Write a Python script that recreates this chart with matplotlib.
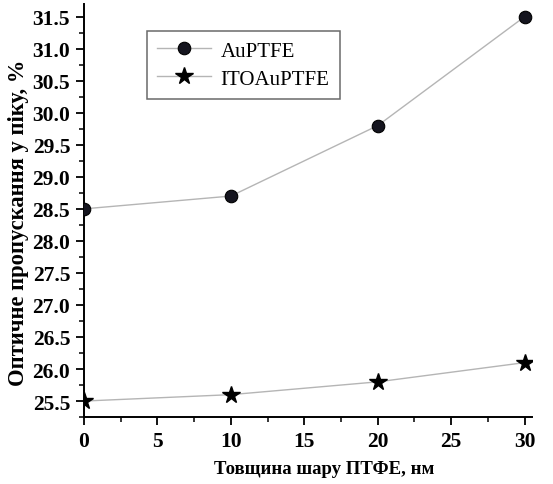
import matplotlib.pyplot as plt
from matplotlib.ticker import MultipleLocator

thickness = [0, 10, 20, 30]
au_ptfe = [28.5, 28.7, 29.8, 31.5]
ito_au_ptfe = [25.5, 25.6, 25.8, 26.1]

plt.rcParams['font.family'] = ['Liberation Serif', 'DejaVu Serif']

fig = plt.figure(figsize=(5.53, 4.85), dpi=100)
ax = fig.add_axes([0.152, 0.138, 0.81, 0.852])

ax.plot(thickness, au_ptfe, color='#b5b5b5', lw=1.0, marker='o', ms=9,
        mfc='#15151f', mec='#000000', mew=0.8, label='AuPTFE', zorder=3)
ax.plot(thickness, ito_au_ptfe, color='#b5b5b5', lw=1.0, marker='*', ms=13,
        mfc='black', mec='black', label='ITOAuPTFE', zorder=3)

ax.set_xlim(0, 30.5)
ax.set_ylim(25.25, 31.7)
ax.xaxis.set_major_locator(MultipleLocator(5))
ax.xaxis.set_minor_locator(MultipleLocator(2.5))
ax.yaxis.set_major_locator(MultipleLocator(0.5))
ax.yaxis.set_minor_locator(MultipleLocator(0.25))
ax.yaxis.set_major_formatter(plt.FormatStrFormatter('%.1f'))

for s in ['top', 'right']:
    ax.spines[s].set_visible(False)
for s in ['left', 'bottom']:
    ax.spines[s].set_linewidth(1.4)
ax.tick_params(which='major', direction='out', length=6, width=1.3,
               labelsize=15.5, pad=4)
ax.tick_params(which='minor', direction='out', length=3.5, width=1.1)
for lab in ax.get_xticklabels() + ax.get_yticklabels():
    lab.set_fontweight('bold')

ax.set_xlabel('Товщина шару ПТФЕ, нм', fontsize=13.5, fontweight='bold')
ax.set_ylabel('Оптичне пропускання у піку, %', fontsize=16.3,
              fontweight='bold')
ax.xaxis.set_label_coords(0.536, -0.103)
ax.yaxis.set_label_coords(-0.122, 0.472)

leg = ax.legend(loc='upper left', bbox_to_anchor=(0.14, 0.935), fontsize=15,
                frameon=True, fancybox=False, edgecolor='#444444',
                handlelength=2.6, handletextpad=0.45, borderpad=0.5,
                labelspacing=0.4, borderaxespad=0)
leg.get_frame().set_linewidth(1.1)

fig.savefig('out.png', dpi=100)
